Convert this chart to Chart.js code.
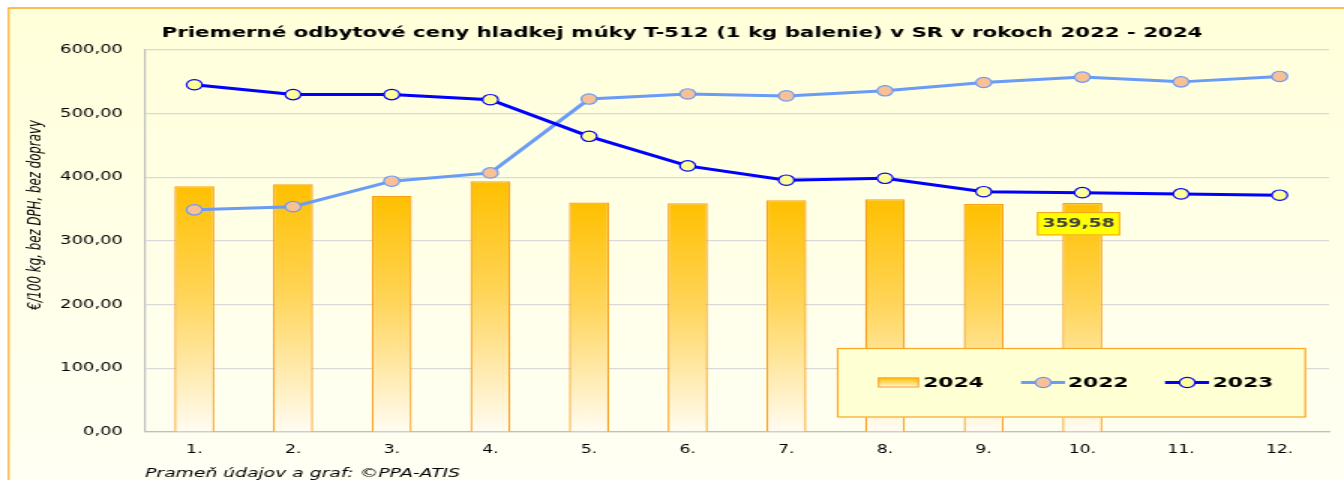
<!DOCTYPE html>
<html><head><meta charset="utf-8">
<script src="https://cdn.jsdelivr.net/npm/chart.js@4"></script>
<style>
html,body{margin:0;padding:0;background:#fff;overflow:hidden;}
#wrap{width:896px;height:480px;transform:scaleX(1.5);transform-origin:0 0;}
canvas{display:block;}
</style></head><body>
<div id="wrap"><canvas id="c" width="896" height="480"></canvas></div>
<script>
// ---- data ----
const categories = ['1.','2.','3.','4.','5.','6.','7.','8.','9.','10.','11.','12.'];
const values2024 = [386, 389, 371, 394, 360.5, 359.5, 364, 365.5, 358, 359.58, null, null];
const values2022 = [349, 354, 394, 407, 523, 531, 528, 536, 549, 557.5, 550, 558.5];
const values2023 = [545.5, 530, 530, 522, 464.5, 418, 395.5, 398.5, 377.5, 376, 374, 372];
const seriesLabels = ['2024', '2022', '2023'];
const yMin = 0, yMax = 600, yStep = 100;
const labelIndex = 9;
const titleText = 'Priemerné odbytové ceny hladkej múky T-512 (1 kg balenie) v SR v rokoch 2022 - 2024';
const yTitleText = '€/100 kg, bez DPH, bez dopravy';
const sourceText = 'Prameň údajov a graf: ©PPA-ATIS';

const fmt = v => Number(v).toFixed(2).replace('.', ',');
Chart.defaults.font.family = 'DejaVu Sans';

function barGradient(ctx2d, top, bottom) {
  const g = ctx2d.createLinearGradient(0, top, 0, bottom);
  g.addColorStop(0, '#FFC000');
  g.addColorStop(0.45, '#FFD55A');
  g.addColorStop(1, '#FFFCF3');
  return g;
}

const bgPlugin = {
  id: 'bg',
  beforeDraw(chart) {
    const c = chart.ctx, W = chart.width, H = chart.height;
    c.save();
    c.fillStyle = '#fff'; c.fillRect(0, 0, W, H);
    const g = c.createLinearGradient(0, 8, 0, H);
    g.addColorStop(0, '#FFFFDA');
    g.addColorStop(1, '#FFFFF4');
    c.fillStyle = g; c.fillRect(5.3, 8, W - 5.3, H - 8);
    c.strokeStyle = '#FBA622';
    c.lineWidth = 1.6;
    c.beginPath(); c.moveTo(5.3, 8); c.lineTo(W, 8); c.stroke();
    c.lineWidth = 1.1;
    c.beginPath(); c.moveTo(5.8, 8); c.lineTo(5.8, H); c.stroke();
    c.restore();
  }
};

const yTitlePlugin = {
  id: 'ytitle',
  afterDraw(chart) {
    const c = chart.ctx;
    c.save();
    c.translate(24, 215);
    c.rotate(-Math.PI / 2);
    c.font = 'italic 11.8px "DejaVu Sans"';
    c.fillStyle = '#000';
    c.textAlign = 'center';
    c.textBaseline = 'middle';
    c.fillText(yTitleText, 0, 0);
    c.restore();
  }
};

const valueLabelPlugin = {
  id: 'vlabel',
  afterDatasetsDraw(chart) {
    const meta = chart.getDatasetMeta(0);
    const el = meta.data[labelIndex];
    if (!el) return;
    const c = chart.ctx;
    const w = 55.5, h = 23.3;
    const cx = el.x - 2.5, top = el.y + 9;
    c.save();
    c.fillStyle = '#FFFF00';
    c.fillRect(cx - w / 2, top, w, h);
    c.strokeStyle = '#F7A21B'; c.lineWidth = 1;
    c.strokeRect(cx - w / 2 + 0.5, top + 0.5, w - 1, h - 1);
    c.fillStyle = '#404040';
    c.font = 'bold 12.5px "DejaVu Sans"';
    c.textAlign = 'center'; c.textBaseline = 'middle';
    c.fillText(fmt(values2024[labelIndex]), cx, top + h / 2 + 0.5);
    c.restore();
  }
};

const legendPlugin = {
  id: 'customLegend',
  afterDraw(chart) {
    const c = chart.ctx;
    const ds = chart.data.datasets;
    const bx = 558, by = 348, bw = 312.7, bh = 69.5;
    const cy = 382.5;
    c.save();
    c.fillStyle = '#FFFFD4';
    c.fillRect(bx, by, bw, bh);
    c.strokeStyle = '#FBA622'; c.lineWidth = 1.2;
    c.strokeRect(bx + 0.5, by + 0.5, bw - 1, bh - 1);
    c.font = 'bold 14.5px "DejaVu Sans"';
    c.fillStyle = '#000';
    c.textBaseline = 'middle'; c.textAlign = 'left';
    // bar swatch
    c.fillStyle = barGradient(c, cy - 5, cy + 5);
    c.fillRect(585.3, cy - 5, 27.4, 10);
    c.strokeStyle = '#F8A01C'; c.lineWidth = 1;
    c.strokeRect(585.8, cy - 4.5, 26.4, 9);
    c.fillStyle = '#000';
    c.fillText(ds[0].label, 615.5, cy + 0.5);
    // line samples
    const lines = [[1, 680.7, 710, 695.5, 712], [2, 776.7, 806, 791.5, 808.5]];
    for (const [i, x0, x1, mx, tx] of lines) {
      c.strokeStyle = ds[i].borderColor; c.lineWidth = 3;
      c.beginPath(); c.moveTo(x0, cy); c.lineTo(x1, cy); c.stroke();
      c.beginPath(); c.arc(mx, cy, 5.2, 0, Math.PI * 2);
      c.fillStyle = ds[i].pointBackgroundColor; c.fill();
      c.lineWidth = 1.2; c.strokeStyle = ds[i].pointBorderColor; c.stroke();
      c.fillStyle = '#000';
      c.fillText(ds[i].label, tx, cy + 0.5);
    }
    c.restore();
  }
};

new Chart(document.getElementById('c'), {
  type: 'bar',
  data: {
    labels: categories,
    datasets: [
      {
        type: 'bar', label: seriesLabels[0], data: values2024, order: 3,
        backgroundColor: (ctx) => {
          const ch = ctx.chart;
          if (!ch.chartArea || ctx.raw == null) return '#FFC000';
          const y = ch.scales.y;
          return barGradient(ch.ctx, y.getPixelForValue(ctx.raw), y.getPixelForValue(0));
        },
        borderColor: '#F8A01C', borderWidth: 1.3,
        categoryPercentage: 1, barPercentage: 0.405
      },
      {
        type: 'line', label: seriesLabels[1], data: values2022, order: 2,
        borderColor: '#6A9BF7', borderWidth: 3, tension: 0,
        pointRadius: 5.2, pointBackgroundColor: '#FAC095', pointBorderColor: '#6A9BF7', pointBorderWidth: 1.2
      },
      {
        type: 'line', label: seriesLabels[2], data: values2023, order: 1,
        borderColor: '#0000FF', borderWidth: 3, tension: 0,
        pointRadius: 5.2, pointBackgroundColor: '#FFFF99', pointBorderColor: '#0000FF', pointBorderWidth: 1.2
      }
    ]
  },
  options: {
    responsive: false, animation: false, devicePixelRatio: 1,
    layout: { padding: { left: 23.4, right: 10, top: 0, bottom: 0 } },
    plugins: {
      legend: { display: false },
      tooltip: { enabled: false },
      title: {
        display: true, text: titleText, color: '#000',
        font: { family: 'DejaVu Sans', size: 14.2, weight: 'bold' },
        padding: { top: 24.5, bottom: 8.5 }
      }
    },
    scales: {
      x: {
        grid: { display: false, drawTicks: false },
        border: { display: true, color: '#BFBFBF', width: 1.2 },
        ticks: { color: '#000', font: { family: 'DejaVu Sans', size: 11.5 }, padding: 11.6 },
        title: {
          display: true, text: sourceText, align: 'start', color: '#000',
          font: { family: 'DejaVu Sans', size: 12.5, style: 'italic' },
          padding: { top: -2.5, bottom: -1.5 }
        }
      },
      y: {
        min: yMin, max: yMax,
        ticks: { stepSize: yStep, callback: fmt, color: '#000', font: { family: 'DejaVu Sans', size: 12 }, padding: 14.7 },
        grid: { color: '#D9D9D9', drawTicks: false, lineWidth: 1.2 },
        border: { display: true, color: '#BFBFBF', width: 1.2 },
        afterFit(s) { s.width = 73.3; }
      }
    }
  },
  plugins: [bgPlugin, yTitlePlugin, valueLabelPlugin, legendPlugin]
});
</script>
</body></html>
